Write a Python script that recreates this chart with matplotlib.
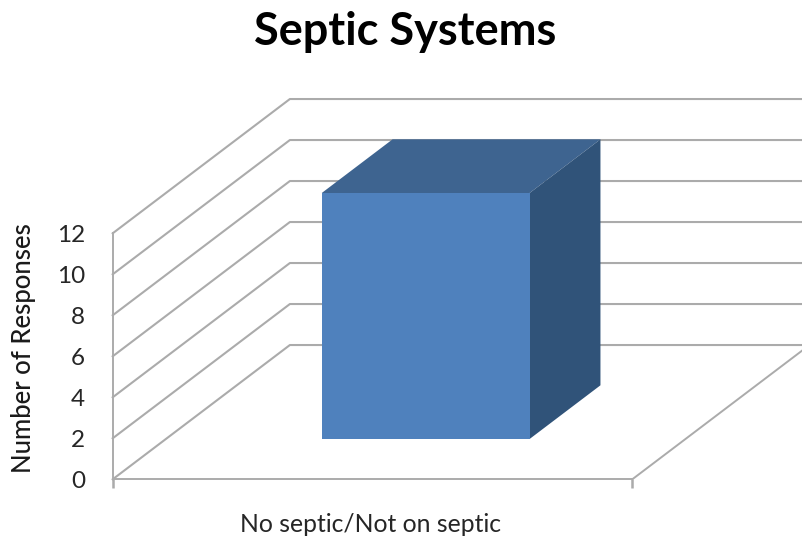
# -*- coding: utf-8 -*-
#------------------------------------------------------------------------------
# Import libraries

import matplotlib
matplotlib.use("Agg")
import matplotlib.pyplot as plt
from matplotlib.patches import Polygon

#------------------------------------------------------------------------------
# Data

categories = ["No septic/Not on septic"]
responses = [12]
y_ticks = [0, 2, 4, 6, 8, 10, 12]

TITLE = "Septic Systems"
Y_LABEL = "Number of Responses"

GRID = "#ababab"
FRONT = "#4f81bd"
TOP = "#3e6490"
SIDE = "#305379"
TEXT = "#262626"

# how far the back wall is shifted, in axis units
DEPTH_X = 0.341
DEPTH_Y = 6.55

#------------------------------------------------------------------------------

def project(c, v, d):
    return (c + d * DEPTH_X, v + d * DEPTH_Y)

def main():
    plt.rcParams["font.family"] = ["Lato", "DejaVu Sans"]

    fig = plt.figure(figsize=(8.02, 5.39), dpi=100)
    ax = fig.add_axes([112.7 / 802, 59.7 / 539, 519.6 / 802, 246 / 539])
    ax.set_xlim(0, 1)
    ax.set_ylim(0, 12)
    ax.patch.set_visible(False)

    for name in ["top", "right"]:
        ax.spines[name].set_visible(False)
    for name in ["left", "bottom"]:
        ax.spines[name].set_color(GRID)
        ax.spines[name].set_linewidth(1.4)

    ax.set_xticks([0, 1])
    ax.set_xticklabels([])
    ax.set_yticks(y_ticks)
    ax.set_yticklabels([str(t) for t in y_ticks], fontsize=17.5, color=TEXT)
    ax.tick_params(axis="x", length=6.5, width=1.8, color=GRID)
    ax.tick_params(axis="y", length=0, pad=20)

    # walls
    for t in y_ticks:
        pts = [project(0, t, 0), project(0, t, 1), project(1, t, 1)]
        ax.plot([p[0] for p in pts], [p[1] for p in pts], color=GRID, lw=1.5,
                clip_on=False, zorder=1)

    # floor, right edge
    pts = [project(1, 0, 0), project(1, 0, 1)]
    ax.plot([p[0] for p in pts], [p[1] for p in pts], color=GRID, lw=1.4,
            clip_on=False, zorder=1)

    # bar
    c0, c1 = 0.3, 0.7
    d0, d1 = 0.3, 0.7
    for i, value in enumerate(responses):
        faces = [
            (TOP, [project(c0, value, d0), project(c1, value, d0),
                   project(c1, value, d1), project(c0, value, d1)]),
            (SIDE, [project(c1, 0, d0), project(c1, 0, d1),
                    project(c1, value, d1), project(c1, value, d0)]),
            (FRONT, [project(c0, 0, d0), project(c1, 0, d0),
                     project(c1, value, d0), project(c0, value, d0)]),
        ]
        for color, corners in faces:
            ax.add_patch(Polygon(corners, closed=True, facecolor=color,
                                 edgecolor="none", clip_on=False, zorder=3))

    fig.text(405.5 / 802, 1 - 32 / 539, TITLE, fontsize=32.5, fontweight="bold",
             color="black", ha="center", va="center")
    fig.text(24 / 802, 1 - 348 / 539, Y_LABEL, fontsize=18.5, fontweight="medium",
             color="#1a1a1a", rotation=90, ha="center", va="center")
    fig.text(371 / 802, 1 - 524 / 539, categories[0], fontsize=17.8, color=TEXT,
             ha="center", va="center")

    fig.savefig("out.png", dpi=100, facecolor="white")

#------------------------------------------------------------------------------

if __name__ == "__main__":
    main()
